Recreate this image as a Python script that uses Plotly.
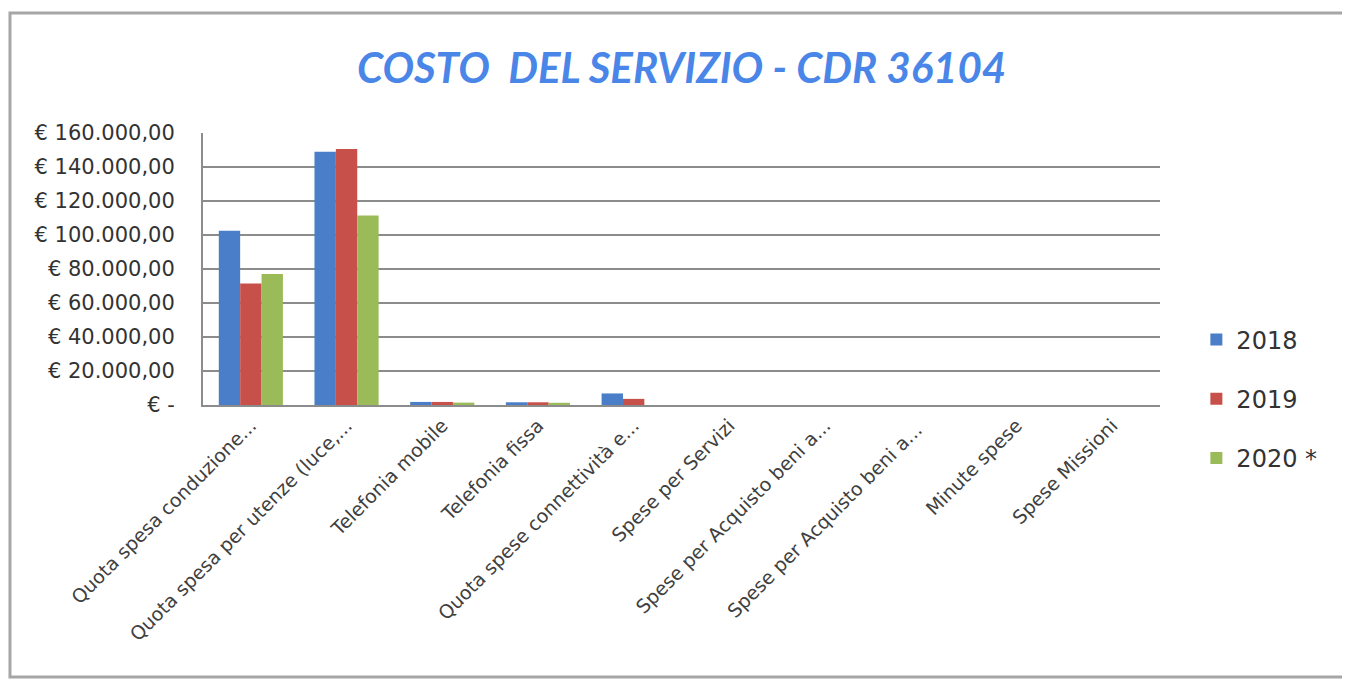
import plotly.graph_objects as go

# Categorie (etichette troncate come nel grafico originale)
categorie = [
    "Quota spesa conduzione...",
    "Quota spesa per utenze (luce,...",
    "Telefonia mobile",
    "Telefonia fissa",
    "Quota spese connettività e...",
    "Spese per Servizi",
    "Spese per Acquisto beni a...",
    "Spese per Acquisto beni a... ",
    "Minute spese",
    "Spese Missioni",
]

# Valori stimati dal grafico (euro)
v2018 = [102500, 149000, 1800, 1600, 6800, 0, 0, 0, 0, 0]
v2019 = [71500, 150600, 1800, 1600, 3600, 0, 0, 0, 0, 0]
v2020 = [77000, 111500, 1400, 1300, 0, 0, 0, 0, 0, 0]

anni = ["2018", "2019", "2020 *"]
colori = ["#4A7EC8", "#C8504A", "#9BBB59"]

tick_val = [0, 20000, 40000, 60000, 80000, 100000, 120000, 140000, 160000]
tick_txt = ["€ -", "€ 20.000,00", "€ 40.000,00", "€ 60.000,00", "€ 80.000,00",
            "€ 100.000,00", "€ 120.000,00", "€ 140.000,00", "€ 160.000,00"]

fig = go.Figure()
for nome, valori, col in zip(anni, [v2018, v2019, v2020], colori):
    fig.add_trace(go.Bar(x=categorie, y=valori, name=nome, marker_color=col,
                         marker_line_width=0, legendgroup=nome))

# la pagina html ha 8px di margine sul body: si compensa qui
fig.update_layout(
    width=1350, height=682,
    margin=dict(l=195, r=198, t=125, b=285),
    paper_bgcolor="white", plot_bgcolor="white",
    font=dict(family="DejaVu Sans, sans-serif", color="#333333"),
    title=dict(text="<b><i>COSTO  DEL SERVIZIO - CDR 36104</i></b>",
               x=0.499, xanchor="center", y=0.912, yanchor="middle",
               font=dict(family="Lato, sans-serif", size=42, color="#4A86E8")),
    barmode="group", bargap=0.33, bargroupgap=0,
    legend=dict(x=1.038, y=0.322, xanchor="left", yanchor="top",
                font=dict(size=24, color="#333333"), tracegroupgap=25,
                itemwidth=30),
    showlegend=True,
)
fig.update_xaxes(tickangle=-45, tickfont=dict(size=19, color="#404040"),
                 showline=True, linecolor="#8c8c8c", linewidth=2,
                 ticks="", showgrid=False, automargin=False)
fig.update_yaxes(range=[0, 160000], tickvals=tick_val, ticktext=tick_txt,
                 tickfont=dict(size=21, color="#333333"),
                 showgrid=True, gridcolor="#8c8c8c", gridwidth=2,
                 showline=True, linecolor="#8c8c8c", linewidth=2,
                 zeroline=False, ticks="", ticklabelstandoff=22,
                 automargin=False)

# cornice del grafico
fig.add_shape(type="rect", xref="paper", yref="paper",
              x0=-0.2017, x1=1.215, y0=-1.0, y1=1.441,
              line=dict(color="#a6a6a6", width=3), fillcolor="rgba(0,0,0,0)")

fig.write_html("out.html")
